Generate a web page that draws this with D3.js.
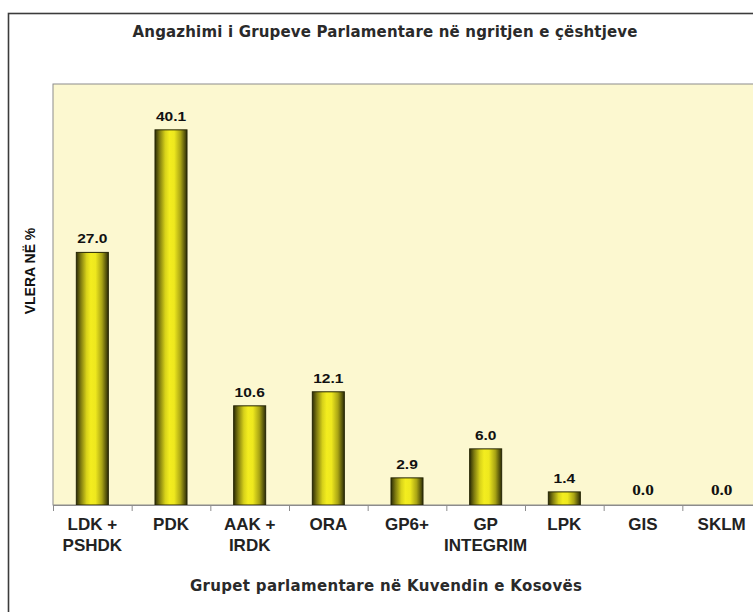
<!DOCTYPE html>
<html>
<head>
<meta charset="utf-8">
<script src="https://cdn.jsdelivr.net/npm/d3@7"></script>
<style>
  body { margin: 0; background: #fff; }
  svg { display: block; }
</style>
</head>
<body>
<div id="chart"></div>
<script>
// data
const categories = [
    ["LDK +", "PSHDK"],
    ["PDK"],
    ["AAK +", "IRDK"],
    ["ORA"],
    ["GP6+"],
    ["GP", "INTEGRIM"],
    ["LPK"],
    ["GIS"],
    ["SKLM"]
];
const values = [27.0, 40.1, 10.6, 12.1, 2.9, 6.0, 1.4, 0.0, 0.0];
const chartTitle = "Angazhimi i Grupeve Parlamentare në ngritjen e çështjeve";
const xTitle = "Grupet parlamentare në Kuvendin e Kosovës";
const yTitle = "VLERA NË %";

const W = 753, H = 612;
const plot = { left: 53, top: 84, right: 761, bottom: 505 };
const pad = 0.593;

const svg = d3.select('#chart')
    .append('svg')
    .attr('width', W)
    .attr('height', H);

// bar gradient (dark edges, bright yellow middle)
const defs = svg.append('defs');
const grad = defs.append('linearGradient')
    .attr('id', 'barGrad')
    .attr('x1', '0%').attr('x2', '100%')
    .attr('y1', '0%').attr('y2', '0%');
[
    [0, '#2c2c06'], [0.14, '#7f7b10'], [0.32, '#d8d21a'], [0.45, '#f3ed1f'],
    [0.6, '#eee81e'], [0.8, '#a9a414'], [1, '#2c2c06']
].forEach(s => grad.append('stop').attr('offset', s[0]).attr('stop-color', s[1]));

// outer frame
svg.append('rect')
    .attr('x', 8.5).attr('y', 13.5)
    .attr('width', W + 20).attr('height', H + 20)
    .attr('fill', '#fff')
    .attr('stroke', '#3c3c3c')
    .attr('stroke-width', 1.6);

// plot area
svg.append('rect')
    .attr('x', plot.left).attr('y', plot.top)
    .attr('width', plot.right - plot.left).attr('height', plot.bottom - plot.top)
    .attr('fill', '#fcf8d0')
    .attr('stroke', '#8c8c8c')
    .attr('stroke-width', 1);

const xScale = d3.scaleBand()
    .domain(d3.range(categories.length))
    .range([plot.left, plot.right])
    .paddingInner(pad)
    .paddingOuter(pad / 2);

const yScale = d3.scaleLinear()
    .domain([0, 45])
    .range([plot.bottom, plot.top]);

const step = xScale.step();
const edge = i => xScale.range()[0] + i * step;
const mid = i => xScale(i) + xScale.bandwidth() / 2;

// bars
svg.append('g')
    .attr('class', 'bars')
    .selectAll('rect')
    .data(values.map((v, i) => ({ v, i })).filter(d => d.v > 0))
    .enter()
    .append('rect')
    .attr('x', d => xScale(d.i))
    .attr('y', d => yScale(d.v))
    .attr('width', xScale.bandwidth())
    .attr('height', d => yScale(0) - yScale(d.v))
    .attr('fill', 'url(#barGrad)')
    .attr('stroke', '#262604')
    .attr('stroke-width', 1);

// value labels (slightly stretched, zero values in a serif face)
svg.append('g')
    .attr('class', 'labels')
    .selectAll('text')
    .data(values)
    .enter()
    .append('text')
    .attr('transform', (d, i) => `translate(${mid(i)}, ${yScale(d) - (d > 0 ? 9 : 10)}) scale(1.15, 1)`)
    .attr('text-anchor', 'middle')
    .style('font-family', d => d > 0 ? 'Liberation Sans, Arial, sans-serif' : 'Liberation Serif, Times New Roman, serif')
    .style('font-weight', 'bold')
    .style('font-size', d => d > 0 ? '13.5px' : '15px')
    .attr('fill', '#111')
    .text(d => d.toFixed(1));

// x axis line + ticks at category boundaries
const axis = svg.append('g').attr('class', 'axis');
axis.append('line')
    .attr('x1', plot.left).attr('x2', plot.right)
    .attr('y1', plot.bottom + 0.5).attr('y2', plot.bottom + 0.5)
    .attr('stroke', '#8c8c8c');
axis.selectAll('line.tick')
    .data(d3.range(categories.length + 1))
    .enter()
    .append('line')
    .attr('class', 'tick')
    .attr('x1', i => edge(i) + 0.5).attr('x2', i => edge(i) + 0.5)
    .attr('y1', plot.bottom).attr('y2', plot.bottom + 6)
    .attr('stroke', '#8c8c8c');

// category labels
const catLabels = axis.selectAll('text.cat')
    .data(categories)
    .enter()
    .append('text')
    .attr('class', 'cat')
    .attr('text-anchor', 'middle')
    .style('font-family', 'Liberation Sans, Arial, sans-serif')
    .style('font-weight', 'bold')
    .style('font-size', '17px')
    .attr('fill', '#222');
catLabels.selectAll('tspan')
    .data((d, i) => d.map(line => ({ line, i })))
    .enter()
    .append('tspan')
    .attr('x', d => mid(d.i))
    .attr('y', (d, j) => 530 + j * 21)
    .text(d => d.line);

// titles
svg.append('text')
    .attr('x', 385).attr('y', 37)
    .attr('text-anchor', 'middle')
    .attr('textLength', 505)
    .style('font-family', 'DejaVu Sans, sans-serif')
    .style('font-weight', 'bold')
    .style('font-size', '15px')
    .attr('fill', '#2a2a2a')
    .text(chartTitle);

svg.append('text')
    .attr('x', 386).attr('y', 591)
    .attr('text-anchor', 'middle')
    .attr('textLength', 392)
    .style('font-family', 'DejaVu Sans, sans-serif')
    .style('font-weight', 'bold')
    .style('font-size', '15px')
    .attr('fill', '#2a2a2a')
    .text(xTitle);

svg.append('text')
    .attr('transform', 'translate(35, 271) rotate(-90)')
    .attr('text-anchor', 'middle')
    .style('font-family', 'Liberation Sans, Arial, sans-serif')
    .style('font-weight', 'bold')
    .style('font-size', '14px')
    .attr('fill', '#111')
    .text(yTitle);
</script>
</body>
</html>
